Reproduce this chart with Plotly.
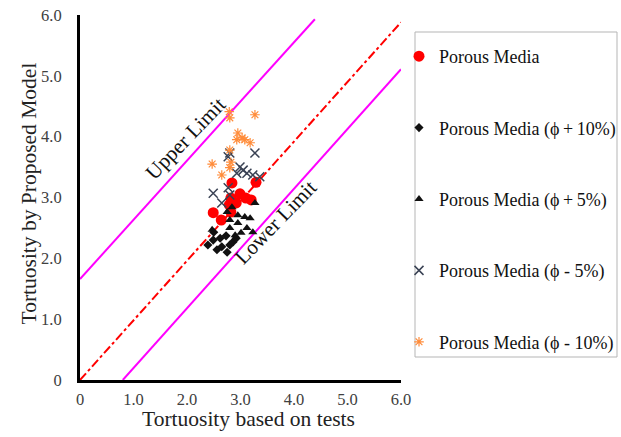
import plotly.graph_objects as go

# ---- data ----
pm_x = [2.49, 2.64, 2.82, 2.84, 2.82, 2.99, 3.10, 3.20, 3.29, 2.79, 2.92]
pm_y = [2.75, 2.63, 2.76, 3.24, 2.99, 3.06, 2.99, 2.96, 3.25, 2.88, 2.91]

p10_x = [2.39, 2.49, 2.56, 2.65, 2.75, 2.80, 2.86, 2.62, 2.73, 2.50, 2.92]
p10_y = [2.22, 2.30, 2.14, 2.19, 2.10, 2.22, 2.27, 2.33, 2.37, 2.43, 2.33]

p5_x = [2.47, 2.80, 2.95, 3.08, 3.18, 3.27, 2.95, 3.12, 3.23, 2.80, 2.90, 2.75, 3.01, 2.84]
p5_y = [2.47, 2.63, 2.71, 2.68, 2.66, 2.91, 2.58, 2.50, 2.43, 2.50, 2.38, 2.76, 2.42, 2.84]

m5_x = [2.49, 2.65, 2.80, 2.77, 2.93, 3.05, 3.12, 3.23, 2.80, 2.77, 3.27, 2.99, 3.36]
m5_y = [3.07, 2.91, 3.04, 3.16, 3.40, 3.45, 3.40, 3.37, 3.73, 3.67, 3.73, 3.50, 3.34]

m10_x = [2.47, 2.80, 2.79, 3.27, 2.95, 3.03, 3.08, 3.18, 2.93, 2.80, 2.65, 2.80, 2.82]
m10_y = [3.55, 4.31, 4.41, 4.36, 4.06, 3.98, 3.95, 3.90, 3.95, 3.78, 3.37, 3.49, 3.58]

upper_x = [0, 4.39]
upper_y = [1.66, 5.93]
lower_x = [0.80, 6.0]
lower_y = [0, 5.11]
ref_x = [0, 6.0]
ref_y = [0, 5.88]

tick_vals = [0, 1, 2, 3, 4, 5, 6]
tick_text = ["0", "1.0", "2.0", "3.0", "4.0", "5.0", "6.0"]

FONT = "Liberation Serif, Times New Roman, serif"

# plot area in page px: x 80..401, y 15..380
PX0, PW, PY1, PH = 80, 321, 380, 365
def px(x):
    return (x - PX0) / PW
def py(y):
    return (PY1 - y) / PH

fig = go.Figure()

fig.add_trace(go.Scatter(x=upper_x, y=upper_y, mode="lines", line=dict(color="#ff00ff", width=2),
                         showlegend=False, hoverinfo="skip"))
fig.add_trace(go.Scatter(x=lower_x, y=lower_y, mode="lines", line=dict(color="#ff00ff", width=2),
                         showlegend=False, hoverinfo="skip"))
fig.add_trace(go.Scatter(x=ref_x, y=ref_y, mode="lines", line=dict(color="#ff0000", width=2, dash="dashdot"),
                         showlegend=False, hoverinfo="skip"))

fig.add_trace(go.Scatter(x=pm_x, y=pm_y, mode="markers", name="Porous Media", legendgroup="a",
                         marker=dict(symbol="circle", size=11, color="#ff0000")))
fig.add_trace(go.Scatter(x=p10_x, y=p10_y, mode="markers", name="Porous Media (ϕ\u2009+\u200910%)", legendgroup="b",
                         marker=dict(symbol="diamond", size=7, color="#111111")))
fig.add_trace(go.Scatter(x=p5_x, y=p5_y, mode="markers", name="Porous Media (ϕ\u2009+\u20095%)", legendgroup="c",
                         marker=dict(symbol="triangle-up", size=8, color="#111111")))
fig.add_trace(go.Scatter(x=m5_x, y=m5_y, mode="markers", name="Porous Media (ϕ - 5%)", legendgroup="d",
                         marker=dict(symbol="x-thin-open", size=9, color="#3a4254", line=dict(width=1.5, color="#3a4254"))))
fig.add_trace(go.Scatter(x=m10_x, y=m10_y, mode="markers", name="Porous Media (ϕ - 10%)", legendgroup="e",
                         marker=dict(symbol="asterisk-open", size=8, color="#ff8c3a", line=dict(width=1.2, color="#ff8c3a"))))

fig.add_annotation(x=1.98, y=3.98, text="Upper Limit", showarrow=False, textangle=-46,
                   font=dict(family=FONT, size=21, color="#111111"))
fig.add_annotation(x=3.66, y=2.60, text="Lower Limit", showarrow=False, textangle=-46,
                   font=dict(family=FONT, size=21, color="#111111"))

# axis titles
fig.add_annotation(xref="paper", yref="paper", x=px(248.5), y=py(419), text="Tortuosity based on tests",
                   showarrow=False, xanchor="center", yanchor="middle",
                   font=dict(family=FONT, size=21.5, color="#222222"))
fig.add_annotation(xref="paper", yref="paper", x=px(28), y=py(193.5), text="Tortuosity by Proposed Model",
                   showarrow=False, xanchor="center", yanchor="middle", textangle=-90,
                   font=dict(family=FONT, size=21.5, color="#222222"))

# legend box
fig.add_shape(type="rect", xref="paper", yref="paper",
              x0=px(415), x1=px(617), y0=py(357), y1=py(32),
              line=dict(color="#b5b5b5", width=1), fillcolor="rgba(0,0,0,0)")

fig.update_layout(
    width=621, height=437,
    margin=dict(l=80, r=220, t=15, b=57, autoexpand=False),
    paper_bgcolor="white", plot_bgcolor="white",
    font=dict(family=FONT, size=16.5, color="#333333"),
    xaxis=dict(range=[0, 6], showgrid=False, zeroline=False, showline=True, linecolor="black", linewidth=3,
               tickvals=tick_vals, ticktext=tick_text, ticks="", ticklabelstandoff=2, automargin=False,
               ticklabeloverflow="allow",
               tickfont=dict(family=FONT, size=16.5, color="#404040")),
    yaxis=dict(range=[0, 6], showgrid=False, zeroline=False, showline=True, linecolor="black", linewidth=3,
               tickvals=tick_vals, ticktext=tick_text, ticks="", ticklabelstandoff=12, automargin=False,
               ticklabeloverflow="allow",
               tickfont=dict(family=FONT, size=16.5, color="#404040")),
    legend=dict(x=px(399), y=py(38), xanchor="left", yanchor="top", bgcolor="rgba(0,0,0,0)",
                borderwidth=0, tracegroupgap=45,
                font=dict(family=FONT, size=18, color="#111111"), itemwidth=30),
)

fig.write_html("out.html", config={"displayModeBar": False},
               post_script="document.body.style.margin='0';document.body.style.padding='0';")
